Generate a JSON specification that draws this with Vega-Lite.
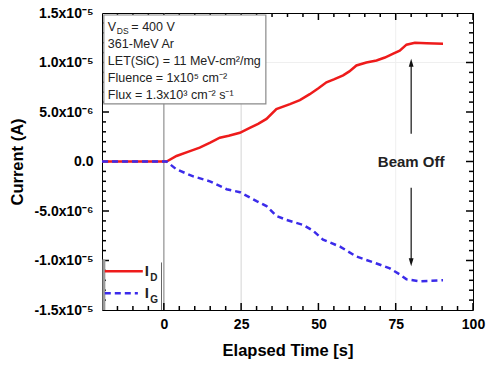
{
  "$schema": "https://vega.github.io/schema/vega-lite/v6.json",
  "width": 371,
  "height": 297,
  "autosize": {"type": "none"},
  "padding": {"left": 102, "top": 13, "right": 14, "bottom": 57},
  "background": "white",
  "config": {
    "view": {"stroke": "#000", "strokeWidth": 1},
    "font": "Liberation Sans",
    "axis": {"domain": false, "grid": false, "ticks": false, "labelFont": "Liberation Sans", "labelFontWeight": "bold", "labelFontSize": 14, "labelColor": "#000", "titleFont": "Liberation Sans", "titleFontWeight": "bold", "titleFontSize": 16.5, "titleColor": "#000"}
  },
  "datasets": {
    "curves": [
      {"t": -20, "v": 0, "series": "ID"},
      {"t": 0.9, "v": 0, "series": "ID"},
      {"t": 4.1, "v": 0.56e-6, "series": "ID"},
      {"t": 8, "v": 1.0e-6, "series": "ID"},
      {"t": 11.6, "v": 1.4e-6, "series": "ID"},
      {"t": 15, "v": 1.9e-6, "series": "ID"},
      {"t": 18.1, "v": 2.4e-6, "series": "ID"},
      {"t": 21, "v": 2.6e-6, "series": "ID"},
      {"t": 24.6, "v": 2.9e-6, "series": "ID"},
      {"t": 27.8, "v": 3.4e-6, "series": "ID"},
      {"t": 30.5, "v": 3.8e-6, "series": "ID"},
      {"t": 33.2, "v": 4.3e-6, "series": "ID"},
      {"t": 36.4, "v": 5.3e-6, "series": "ID"},
      {"t": 40.8, "v": 5.8e-6, "series": "ID"},
      {"t": 44, "v": 6.2e-6, "series": "ID"},
      {"t": 47.2, "v": 6.8e-6, "series": "ID"},
      {"t": 50, "v": 7.4e-6, "series": "ID"},
      {"t": 52.6, "v": 8.0e-6, "series": "ID"},
      {"t": 55, "v": 8.3e-6, "series": "ID"},
      {"t": 58, "v": 8.7e-6, "series": "ID"},
      {"t": 60, "v": 9.1e-6, "series": "ID"},
      {"t": 62.3, "v": 9.7e-6, "series": "ID"},
      {"t": 65.5, "v": 10.0e-6, "series": "ID"},
      {"t": 68.8, "v": 10.2e-6, "series": "ID"},
      {"t": 71.5, "v": 10.5e-6, "series": "ID"},
      {"t": 74.2, "v": 10.9e-6, "series": "ID"},
      {"t": 76.3, "v": 11.2e-6, "series": "ID"},
      {"t": 78.5, "v": 11.8e-6, "series": "ID"},
      {"t": 81.2, "v": 12.0e-6, "series": "ID"},
      {"t": 85, "v": 11.95e-6, "series": "ID"},
      {"t": 90.3, "v": 11.9e-6, "series": "ID"},
      {"t": -20, "v": 0, "series": "IG"},
      {"t": 0.9, "v": 0, "series": "IG"},
      {"t": 4.1, "v": -0.8e-6, "series": "IG"},
      {"t": 9.5, "v": -1.5e-6, "series": "IG"},
      {"t": 14.9, "v": -2.0e-6, "series": "IG"},
      {"t": 20.3, "v": -2.8e-6, "series": "IG"},
      {"t": 24.6, "v": -3.1e-6, "series": "IG"},
      {"t": 30, "v": -4.0e-6, "series": "IG"},
      {"t": 33.2, "v": -4.5e-6, "series": "IG"},
      {"t": 36.4, "v": -5.5e-6, "series": "IG"},
      {"t": 39.7, "v": -5.9e-6, "series": "IG"},
      {"t": 45, "v": -6.4e-6, "series": "IG"},
      {"t": 48.3, "v": -7.0e-6, "series": "IG"},
      {"t": 51.5, "v": -7.9e-6, "series": "IG"},
      {"t": 57, "v": -8.6e-6, "series": "IG"},
      {"t": 62.3, "v": -9.6e-6, "series": "IG"},
      {"t": 68.8, "v": -10.3e-6, "series": "IG"},
      {"t": 73.1, "v": -10.8e-6, "series": "IG"},
      {"t": 76.3, "v": -11.4e-6, "series": "IG"},
      {"t": 78.5, "v": -11.9e-6, "series": "IG"},
      {"t": 82.8, "v": -12.1e-6, "series": "IG"},
      {"t": 90.3, "v": -12.0e-6, "series": "IG"}
    ],
    "xmajor": [{"t": 0}, {"t": 25}, {"t": 50}, {"t": 75}, {"t": 100}],
    "xminor": [{"t": -15}, {"t": -10}, {"t": -5}, {"t": 5}, {"t": 10}, {"t": 15}, {"t": 20}, {"t": 30}, {"t": 35}, {"t": 40}, {"t": 45}, {"t": 55}, {"t": 60}, {"t": 65}, {"t": 70}, {"t": 80}, {"t": 85}, {"t": 90}, {"t": 95}],
    "ymajor": [{"v": -1e-5}, {"v": -5e-6}, {"v": 0}, {"v": 5e-6}, {"v": 1e-5}],
    "yminor": [{"v": -14e-6}, {"v": -13e-6}, {"v": -12e-6}, {"v": -11e-6}, {"v": -9e-6}, {"v": -8e-6}, {"v": -7e-6}, {"v": -6e-6}, {"v": -4e-6}, {"v": -3e-6}, {"v": -2e-6}, {"v": -1e-6}, {"v": 1e-6}, {"v": 2e-6}, {"v": 3e-6}, {"v": 4e-6}, {"v": 6e-6}, {"v": 7e-6}, {"v": 8e-6}, {"v": 9e-6}, {"v": 11e-6}, {"v": 12e-6}, {"v": 13e-6}, {"v": 14e-6}]
  },
  "resolve": {"axis": {"x": "independent", "y": "independent"}},
  "layer": [
    {
      "data": {"values": [{"t": 0}]},
      "mark": {"type": "rule", "color": "#a6a6a6", "strokeWidth": 1.5},
      "encoding": {
        "x": {"field": "t", "type": "quantitative", "scale": {"domain": [-20, 100], "nice": false, "zero": false},
          "axis": {"orient": "bottom", "values": [0, 25, 50, 75, 100], "labelPadding": 7, "title": "Elapsed Time [s]", "titlePadding": 11, "labelFlush": false}}
      }
    },
    {
      "data": {"values": [{"t": 25}]},
      "mark": {"type": "rule", "color": "#d4d4d4", "strokeWidth": 1},
      "encoding": {"x": {"field": "t", "type": "quantitative", "scale": {"domain": [-20, 100], "nice": false, "zero": false}, "axis": null}}
    },
    {
      "data": {"values": [{"t": 75}]},
      "mark": {"type": "rule", "color": "#efefef", "strokeWidth": 1},
      "encoding": {"x": {"field": "t", "type": "quantitative", "scale": {"domain": [-20, 100], "nice": false, "zero": false}, "axis": null}}
    },
    {
      "data": {"values": [{"v": 1e-5}]},
      "mark": {"type": "rule", "color": "#efefef", "strokeWidth": 1},
      "encoding": {
        "y": {"field": "v", "type": "quantitative", "scale": {"domain": [-1.5e-5, 1.5e-5], "nice": false, "zero": false},
          "axis": {"orient": "left", "values": [-1.5e-5, -1e-5, -5e-6, 0, 5e-6, 1e-5, 1.5e-5], "labelPadding": 9, "title": "Current (A)", "titlePadding": 8, "labelFlush": false,
            "labelExpr": "round(datum.value*1e6)==15?'1.5x10⁻⁵':round(datum.value*1e6)==10?'1.0x10⁻⁵':round(datum.value*1e6)==5?'5.0x10⁻⁶':round(datum.value*1e6)==0?'0.0':round(datum.value*1e6)==-5?'-5.0x10⁻⁶':round(datum.value*1e6)==-10?'-1.0x10⁻⁵':'-1.5x10⁻⁵'"}}
      }
    },
    {
      "data": {"name": "xmajor"},
      "mark": {"type": "rule", "color": "#000", "strokeWidth": 1.5},
      "encoding": {"x": {"field": "t", "type": "quantitative", "axis": null}, "y": {"datum": -1.5e-5, "type": "quantitative", "axis": null}, "y2": {"datum": -1.4293e-5}}
    },
    {
      "data": {"name": "xmajor"},
      "mark": {"type": "rule", "color": "#000", "strokeWidth": 1.5},
      "encoding": {"x": {"field": "t", "type": "quantitative", "axis": null}, "y": {"datum": 1.5e-5, "type": "quantitative", "axis": null}, "y2": {"datum": 1.4293e-5}}
    },
    {
      "data": {"name": "xminor"},
      "mark": {"type": "rule", "color": "#000", "strokeWidth": 1.5},
      "encoding": {"x": {"field": "t", "type": "quantitative", "axis": null}, "y": {"datum": -1.5e-5, "type": "quantitative", "axis": null}, "y2": {"datum": -1.4596e-5}}
    },
    {
      "data": {"name": "xminor"},
      "mark": {"type": "rule", "color": "#000", "strokeWidth": 1.5},
      "encoding": {"x": {"field": "t", "type": "quantitative", "axis": null}, "y": {"datum": 1.5e-5, "type": "quantitative", "axis": null}, "y2": {"datum": 1.4596e-5}}
    },
    {
      "data": {"name": "ymajor"},
      "mark": {"type": "rule", "color": "#000", "strokeWidth": 1.5},
      "encoding": {"y": {"field": "v", "type": "quantitative", "axis": null}, "x": {"datum": -20, "type": "quantitative", "axis": null}, "x2": {"datum": -17.74}}
    },
    {
      "data": {"name": "ymajor"},
      "mark": {"type": "rule", "color": "#000", "strokeWidth": 1.5},
      "encoding": {"y": {"field": "v", "type": "quantitative", "axis": null}, "x": {"datum": 100, "type": "quantitative", "axis": null}, "x2": {"datum": 97.74}}
    },
    {
      "data": {"name": "yminor"},
      "mark": {"type": "rule", "color": "#000", "strokeWidth": 1.5},
      "encoding": {"y": {"field": "v", "type": "quantitative", "axis": null}, "x": {"datum": -20, "type": "quantitative", "axis": null}, "x2": {"datum": -18.71}}
    },
    {
      "data": {"name": "yminor"},
      "mark": {"type": "rule", "color": "#000", "strokeWidth": 1.5},
      "encoding": {"y": {"field": "v", "type": "quantitative", "axis": null}, "x": {"datum": 100, "type": "quantitative", "axis": null}, "x2": {"datum": 98.71}}
    },
    {
      "data": {"values": [{"t": -19.4, "t2": 33.0, "v": 14.8e-6, "v2": 5.83e-6}]},
      "mark": {"type": "rect", "fill": "white", "stroke": "#8a8a8a", "strokeWidth": 1.2},
      "encoding": {
        "x": {"field": "t", "type": "quantitative", "axis": null},
        "x2": {"field": "t2"},
        "y": {"field": "v", "type": "quantitative", "axis": null},
        "y2": {"field": "v2"}
      }
    },
    {
      "data": {"values": [
        {"t": -18.1, "v": 13.63e-6, "label": "V"},
        {"t": -10.5, "v": 13.63e-6, "label": "= 400 V"},
        {"t": -18.1, "v": 11.9e-6, "label": "361-MeV Ar"},
        {"t": -18.1, "v": 10.18e-6, "label": "LET(SiC) = 11 MeV-cm²/mg"},
        {"t": -18.1, "v": 8.46e-6, "label": "Fluence = 1x10⁵ cm⁻²"},
        {"t": -18.1, "v": 6.74e-6, "label": "Flux = 1.3x10³ cm⁻² s⁻¹"}
      ]},
      "mark": {"type": "text", "align": "left", "baseline": "middle", "fontSize": 12.5, "font": "Liberation Sans", "color": "#222"},
      "encoding": {
        "x": {"field": "t", "type": "quantitative", "axis": null},
        "y": {"field": "v", "type": "quantitative", "axis": null},
        "text": {"field": "label"}
      }
    },
    {
      "data": {"values": [{"t": -15.2, "v": 13.2e-6, "label": "DS"}]},
      "mark": {"type": "text", "align": "left", "baseline": "middle", "fontSize": 8.5, "font": "Liberation Sans", "color": "#222"},
      "encoding": {
        "x": {"field": "t", "type": "quantitative", "axis": null},
        "y": {"field": "v", "type": "quantitative", "axis": null},
        "text": {"field": "label"}
      }
    },
    {
      "data": {"name": "curves"},
      "transform": [{"filter": "datum.series == 'ID'"}],
      "mark": {"type": "line", "color": "#ee1b1b", "strokeWidth": 2.5},
      "encoding": {
        "x": {"field": "t", "type": "quantitative", "axis": null},
        "y": {"field": "v", "type": "quantitative", "axis": null}
      }
    },
    {
      "data": {"name": "curves"},
      "transform": [{"filter": "datum.series == 'IG'"}],
      "mark": {"type": "line", "color": "#3b2bea", "strokeWidth": 2.5, "strokeDash": [6, 4]},
      "encoding": {
        "x": {"field": "t", "type": "quantitative", "axis": null},
        "y": {"field": "v", "type": "quantitative", "axis": null}
      }
    },
    {
      "data": {"values": [{"t": 80, "v": 2.8e-6, "v2": 9.9e-6}, {"t": 80, "v": -2.65e-6, "v2": -9.9e-6}]},
      "mark": {"type": "rule", "color": "#111", "strokeWidth": 1.2},
      "encoding": {
        "x": {"field": "t", "type": "quantitative", "axis": null},
        "y": {"field": "v", "type": "quantitative", "axis": null},
        "y2": {"field": "v2"}
      }
    },
    {
      "data": {"values": [{"t": 80, "v": 9.98e-6, "dir": "up"}, {"t": 80, "v": -10.18e-6, "dir": "down"}]},
      "mark": {"type": "point", "filled": true, "color": "#111", "opacity": 1, "size": 64},
      "encoding": {
        "x": {"field": "t", "type": "quantitative", "axis": null},
        "y": {"field": "v", "type": "quantitative", "axis": null},
        "shape": {"field": "dir", "type": "nominal", "legend": null, "scale": {"domain": ["up", "down"], "range": ["M0,-1L0.6,1L-0.6,1Z", "M0,1L0.6,-1L-0.6,-1Z"]}}
      }
    },
    {
      "data": {"values": [{"t": 80, "v": 0, "label": "Beam Off"}]},
      "mark": {"type": "text", "align": "center", "baseline": "middle", "fontSize": 15, "fontWeight": "bold", "font": "Liberation Sans", "color": "#222"},
      "encoding": {
        "x": {"field": "t", "type": "quantitative", "axis": null},
        "y": {"field": "v", "type": "quantitative", "axis": null},
        "text": {"field": "label"}
      }
    },
    {
      "data": {"values": [{"t": -19.4, "v": -9.9e-6, "v2": -15e-6}]},
      "mark": {"type": "rule", "color": "#9a9a9a", "strokeWidth": 3},
      "encoding": {
        "x": {"field": "t", "type": "quantitative", "axis": null},
        "y": {"field": "v", "type": "quantitative", "axis": null},
        "y2": {"field": "v2"}
      }
    },
    {
      "data": {"values": [{"t": -0.75, "v": -10.2e-6, "v2": -15e-6}]},
      "mark": {"type": "rule", "color": "#666", "strokeWidth": 1},
      "encoding": {
        "x": {"field": "t", "type": "quantitative", "axis": null},
        "y": {"field": "v", "type": "quantitative", "axis": null},
        "y2": {"field": "v2"}
      }
    },
    {
      "data": {"values": [{"t": -19.1, "t2": -6.8, "v": -11.09e-6, "series": "ID"}, {"t": -19.1, "t2": -8.4, "v": -13.32e-6, "series": "IG"}]},
      "mark": {"type": "rule", "strokeWidth": 2.5},
      "encoding": {
        "x": {"field": "t", "type": "quantitative", "axis": null},
        "x2": {"field": "t2"},
        "y": {"field": "v", "type": "quantitative", "axis": null},
        "color": {"field": "series", "type": "nominal", "legend": null, "scale": {"domain": ["ID", "IG"], "range": ["#ee1b1b", "#3b2bea"]}},
        "strokeDash": {"field": "series", "type": "nominal", "legend": null, "scale": {"domain": ["ID", "IG"], "range": [[1, 0], [6, 4]]}}
      }
    },
    {
      "data": {"values": [{"t": -6.2, "v": -11.09e-6, "label": "I"}, {"t": -6.2, "v": -13.32e-6, "label": "I"}]},
      "mark": {"type": "text", "align": "left", "baseline": "middle", "fontSize": 15, "fontWeight": "bold", "font": "Liberation Sans", "color": "#222"},
      "encoding": {
        "x": {"field": "t", "type": "quantitative", "axis": null},
        "y": {"field": "v", "type": "quantitative", "axis": null},
        "text": {"field": "label"}
      }
    },
    {
      "data": {"values": [{"t": -4.4, "v": -11.75e-6, "label": "D"}, {"t": -4.4, "v": -13.98e-6, "label": "G"}]},
      "mark": {"type": "text", "align": "left", "baseline": "middle", "fontSize": 10, "fontWeight": "bold", "font": "Liberation Sans", "color": "#222"},
      "encoding": {
        "x": {"field": "t", "type": "quantitative", "axis": null},
        "y": {"field": "v", "type": "quantitative", "axis": null},
        "text": {"field": "label"}
      }
    }
  ]
}
